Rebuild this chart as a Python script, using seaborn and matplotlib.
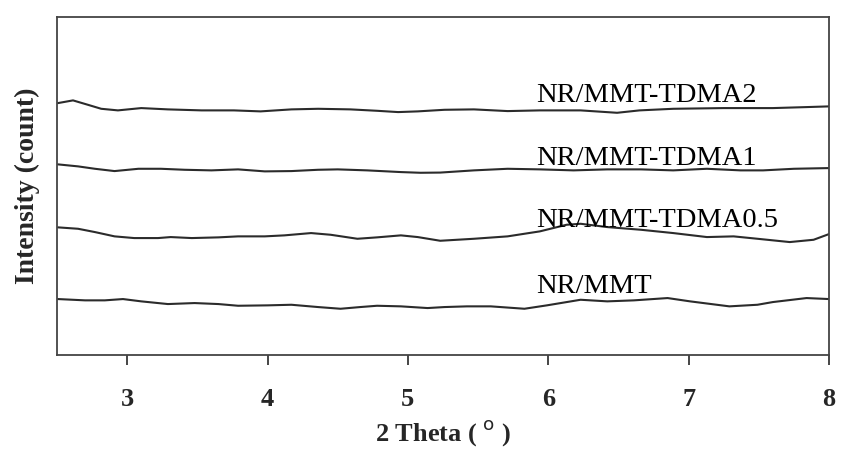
import pandas as pd
import matplotlib
matplotlib.use("Agg")
import matplotlib.pyplot as plt
import seaborn as sns

# XRD patterns (2 theta in degrees, intensity in arbitrary counts)
theta_tdma2 = [2.507, 2.614, 2.72, 2.815, 2.934, 3.10, 3.29, 3.53, 3.76, 3.95, 4.17, 4.36,
               4.59, 4.78, 4.93, 5.07, 5.26, 5.47, 5.71, 5.94, 6.23, 6.49, 6.65, 6.89,
               7.25, 7.60, 7.84, 8.00]
int_tdma2 = [252, 254.7, 250.3, 246.3, 244.7, 247, 245.7, 244.7, 244.7, 243.7, 245.7, 246.3,
             245.7, 244.3, 243, 243.7, 245.3, 245.7, 244, 244.7, 244.7, 242.3, 244.7, 246.3,
             247, 247, 248, 248.7]

theta_tdma1 = [2.507, 2.65, 2.77, 2.91, 3.08, 3.24, 3.41, 3.60, 3.79, 3.98, 4.17, 4.36,
               4.50, 4.71, 4.95, 5.09, 5.23, 5.47, 5.71, 5.94, 6.18, 6.42, 6.66, 6.89,
               7.13, 7.37, 7.53, 7.75, 8.00]
int_tdma1 = [190.7, 188.7, 186.3, 184, 186.3, 186.3, 185.3, 184.7, 185.7, 183.7, 184, 185.3,
             185.7, 184.7, 183, 182.3, 182.5, 184.7, 186.3, 185.7, 184.7, 185.7, 185.7, 184.7,
             186.3, 184.7, 184.7, 186.3, 187]

theta_tdma05 = [2.507, 2.65, 2.77, 2.91, 3.05, 3.22, 3.31, 3.46, 3.65, 3.79, 3.98, 4.12,
                4.31, 4.45, 4.64, 4.78, 4.95, 5.07, 5.23, 5.47, 5.71, 5.94, 6.13, 6.23,
                6.42, 6.66, 6.89, 7.13, 7.32, 7.49, 7.72, 7.89, 8.00]
int_tdma05 = [127.7, 126.3, 123, 118.7, 117, 117, 118, 117, 117.7, 118.7, 118.7, 119.7,
              122, 120.3, 116.3, 117.7, 119.7, 118, 114.3, 116.3, 118.7, 123.7, 130.3, 131.3,
              128, 125.3, 122, 118, 118.7, 116.3, 113, 115.3, 121]

theta_mmt = [2.507, 2.70, 2.84, 2.97, 3.10, 3.29, 3.48, 3.65, 3.79, 4.00, 4.17, 4.36,
             4.52, 4.66, 4.78, 4.95, 5.14, 5.26, 5.42, 5.59, 5.83, 5.99, 6.23, 6.42,
             6.61, 6.85, 7.01, 7.29, 7.49, 7.60, 7.84, 8.00]
int_mmt = [56, 54.7, 54.7, 56, 53.7, 51, 52, 51, 49.3, 49.7, 50.3, 48,
           46.3, 48, 49.3, 48.7, 47, 48, 48.7, 48.7, 46.3, 49.7, 55.3, 53.7,
           54.7, 57, 53.7, 48.7, 50.3, 53, 57, 56]

labels = ["NR/MMT-TDMA2", "NR/MMT-TDMA1", "NR/MMT-TDMA0.5", "NR/MMT"]
label_x = 5.91
label_y = [253.3, 190, 128.3, 61.7]

sns.set_style("ticks")
plt.rcParams['font.family'] = ['Liberation Serif', 'DejaVu Serif']

fig = plt.figure(figsize=(8.42, 4.5), dpi=100)
ax = fig.add_axes([0.0677, 0.211, 0.9169, 0.751])

series = [(theta_tdma2, int_tdma2), (theta_tdma1, int_tdma1),
          (theta_tdma05, int_tdma05), (theta_mmt, int_mmt)]
for (tx, ty) in series:
    df = pd.DataFrame({'theta': tx, 'intensity': ty})
    sns.lineplot(data=df, x='theta', y='intensity', ax=ax, color='#2b2b2b',
                 linewidth=1.5, sort=False, estimator=None)

for lab, ly in zip(labels, label_y):
    ax.text(label_x, ly, lab, fontsize=20.5, va='baseline', ha='left', color='black')

ax.set_xlim(2.5, 8)
ax.set_ylim(0, 338)
ax.set_xticks([3, 4, 5, 6, 7, 8])
ax.set_yticks([])
ax.tick_params(axis='x', direction='out', length=7, width=1.2, pad=17, labelsize=19)
for lbl in ax.get_xticklabels():
    lbl.set_fontweight('bold')
ax.set_xlabel('2 Theta ( $^{\\rm o}$ )', fontsize=19, fontweight='bold', labelpad=5)
ax.set_ylabel('Intensity (count)', fontsize=20, fontweight='bold', labelpad=12)
for s in ax.spines.values():
    s.set_visible(True)
    s.set_linewidth(1.3)
    s.set_color('#444444')

fig.savefig('out.png', dpi=100)
